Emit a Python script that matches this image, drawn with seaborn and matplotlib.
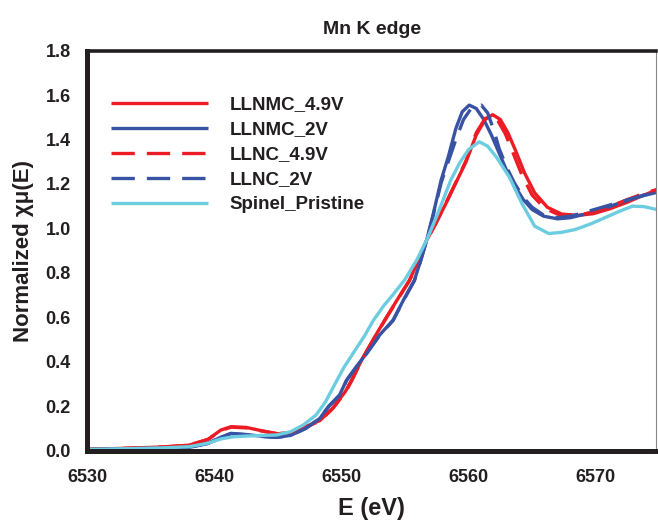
import matplotlib
matplotlib.use("Agg")
import matplotlib.pyplot as plt
import seaborn as sns
import pandas as pd

# energy (eV) / normalized absorption
llnmc_49_x = [6530.0, 6533.0, 6536.0, 6538.0, 6539.5, 6540.5, 6541.3, 6542.5, 6543.8, 6545.0,
              6546.3, 6547.3, 6548.3, 6549.3, 6550.3, 6550.8, 6551.7, 6552.6, 6553.4, 6554.4,
              6555.35, 6556.1, 6556.7, 6557.4, 6558.2, 6559.1, 6559.8, 6560.6, 6561.3, 6561.9,
              6562.5, 6563.1, 6563.7, 6564.4, 6565.2, 6566.2, 6567.3, 6568.5, 6569.8, 6571.1,
              6572.5, 6573.7, 6574.8]
llnmc_49_y = [0.005, 0.010, 0.016, 0.024, 0.050, 0.092, 0.107, 0.104, 0.088, 0.075,
              0.084, 0.110, 0.135, 0.190, 0.265, 0.317, 0.420, 0.510, 0.587, 0.680,
              0.767, 0.860, 0.947, 1.020, 1.110, 1.217, 1.300, 1.420, 1.490, 1.512,
              1.490, 1.430, 1.350, 1.250, 1.160, 1.095, 1.065, 1.058, 1.066, 1.088,
              1.118, 1.148, 1.172]

llnmc_2_x = [6530.0, 6533.0, 6536.0, 6538.0, 6539.5, 6540.5, 6541.3, 6542.5, 6543.8, 6544.9,
             6546.0, 6547.2, 6548.3, 6549.0, 6549.85, 6550.4, 6551.2, 6552.0, 6553.0, 6554.06,
             6554.9, 6555.74, 6556.2, 6556.7, 6557.2, 6557.84, 6558.4, 6559.0, 6559.5, 6560.05,
             6560.6, 6561.2, 6561.8, 6562.4, 6563.0, 6563.6, 6564.3, 6565.0, 6565.9, 6567.0,
             6568.0, 6569.0, 6570.2, 6571.4, 6572.6, 6573.8, 6574.8]
llnmc_2_y = [0.005, 0.008, 0.011, 0.014, 0.032, 0.060, 0.077, 0.072, 0.064, 0.059,
             0.068, 0.100, 0.145, 0.200, 0.250, 0.317, 0.380, 0.440, 0.520, 0.587,
             0.680, 0.767, 0.850, 0.947, 1.060, 1.217, 1.322, 1.450, 1.525, 1.555,
             1.540, 1.490, 1.420, 1.340, 1.260, 1.195, 1.130, 1.085, 1.055, 1.043,
             1.048, 1.062, 1.080, 1.105, 1.128, 1.148, 1.162]

llnc_49_x = [6530.0, 6533.0, 6536.0, 6538.0, 6539.5, 6540.5, 6541.3, 6542.5, 6543.8, 6545.0,
             6546.3, 6547.3, 6548.3, 6549.3, 6550.3, 6550.8, 6551.7, 6552.6, 6553.4, 6554.4,
             6555.35, 6556.1, 6556.7, 6557.4, 6558.2, 6559.1, 6559.8, 6560.6, 6561.3, 6561.8,
             6562.3, 6562.9, 6563.5, 6564.2, 6565.0, 6566.0, 6567.1, 6568.5, 6569.8, 6571.1,
             6572.5, 6573.7, 6574.8]
llnc_49_y = [0.005, 0.010, 0.016, 0.024, 0.050, 0.090, 0.105, 0.102, 0.087, 0.075,
             0.083, 0.108, 0.133, 0.188, 0.262, 0.314, 0.418, 0.508, 0.585, 0.678,
             0.765, 0.858, 0.945, 1.020, 1.112, 1.220, 1.305, 1.430, 1.495, 1.505,
             1.485, 1.425, 1.340, 1.240, 1.150, 1.090, 1.062, 1.060, 1.072, 1.098,
             1.130, 1.155, 1.175]

llnc_2_x = [6530.0, 6533.0, 6536.0, 6538.0, 6539.5, 6540.5, 6541.3, 6542.5, 6543.8, 6544.9,
            6546.0, 6547.2, 6548.3, 6549.0, 6549.85, 6550.4, 6551.2, 6552.0, 6553.0, 6554.06,
            6554.9, 6555.74, 6556.2, 6556.7, 6557.2, 6557.84, 6558.4, 6559.0, 6559.6, 6560.2,
            6561.0, 6561.5, 6562.0, 6562.4, 6563.0, 6563.6, 6564.3, 6565.0, 6565.9, 6567.0,
            6568.0, 6569.0, 6570.2, 6571.4, 6572.6, 6573.8, 6574.8]
llnc_2_y = [0.005, 0.008, 0.011, 0.014, 0.032, 0.060, 0.076, 0.071, 0.063, 0.059,
            0.068, 0.100, 0.145, 0.198, 0.248, 0.315, 0.378, 0.438, 0.518, 0.585,
            0.678, 0.765, 0.848, 0.945, 1.055, 1.205, 1.300, 1.400, 1.490, 1.540,
            1.555, 1.520, 1.440, 1.360, 1.275, 1.205, 1.140, 1.095, 1.060, 1.048,
            1.055, 1.070, 1.090, 1.110, 1.130, 1.150, 1.165]

spinel_x = [6530.0, 6533.0, 6536.0, 6538.0, 6539.5, 6540.5, 6541.5, 6542.5, 6543.8, 6544.9,
            6546.0, 6547.0, 6548.0, 6548.7, 6549.4, 6550.2, 6551.0, 6551.8, 6552.5, 6553.3,
            6554.1, 6554.96, 6555.9, 6556.7, 6557.6, 6558.6, 6559.3, 6560.0, 6560.84, 6561.5,
            6562.2, 6563.2, 6564.2, 6565.2, 6566.3, 6567.3, 6568.4, 6569.6, 6570.8, 6572.0,
            6572.9, 6573.8, 6574.8]
spinel_y = [0.005, 0.008, 0.012, 0.017, 0.033, 0.052, 0.062, 0.065, 0.068, 0.070,
            0.085, 0.115, 0.160, 0.215, 0.290, 0.375, 0.445, 0.515, 0.585, 0.650,
            0.705, 0.767, 0.855, 0.947, 1.070, 1.217, 1.295, 1.355, 1.390, 1.370,
            1.320, 1.232, 1.112, 1.010, 0.977, 0.982, 0.995, 1.020, 1.050, 1.080,
            1.100, 1.098, 1.085]

names = ["LLNMC_4.9V", "LLNMC_2V", "LLNC_4.9V", "LLNC_2V", "Spinel_Pristine"]
xs = [llnmc_49_x, llnmc_2_x, llnc_49_x, llnc_2_x, spinel_x]
ys = [llnmc_49_y, llnmc_2_y, llnc_49_y, llnc_2_y, spinel_y]
colors = ["#ed1c24", "#3953a4", "#ed1c24", "#3953a4", "#6dcde0"]
dashed = [False, False, True, True, False]

sns.set_style("white")
plt.rcParams['font.family'] = ['Liberation Sans', 'DejaVu Sans']
plt.rcParams['font.weight'] = 'bold'

fig = plt.figure(figsize=(6.58, 5.21), dpi=100)
ax = fig.add_axes([0.1327, 0.1353, 0.8643, 0.7674])

for name, x, y, c, d in zip(names, xs, ys, colors, dashed):
    df = pd.DataFrame({"E": x, "mu": y})
    sns.lineplot(data=df, x="E", y="mu", color=c, linewidth=2.4, label=name, ax=ax)
    line = ax.lines[-1]
    if d:
        line.set_dashes((7, 3.6))
    line.set_solid_capstyle('butt')

ax.set_xlim(6530, 6574.75)
ax.set_ylim(0, 1.8)
ax.set_xticks([6530, 6540, 6550, 6560, 6570])
ax.set_yticks([0.0, 0.2, 0.4, 0.6, 0.8, 1.0, 1.2, 1.4, 1.6, 1.8])
ax.set_yticklabels([f"{v:.1f}" for v in ax.get_yticks()])

ax.tick_params(axis='both', which='major', direction='out', length=4, width=1,
               color='#555555', labelsize=13, labelcolor='#231f20')
ax.tick_params(axis='x', pad=9)
ax.tick_params(axis='y', pad=8)
for lab in ax.get_xticklabels() + ax.get_yticklabels():
    lab.set_fontweight('bold')

spine_col = '#231f20'
ax.spines['left'].set_linewidth(3.6)
ax.spines['bottom'].set_linewidth(3.6)
ax.spines['top'].set_linewidth(2.6)
ax.spines['right'].set_linewidth(0.8)
for s in ['left', 'bottom', 'top']:
    ax.spines[s].set_color(spine_col)
ax.spines['right'].set_color('#888888')

ax.set_title("Mn K edge", fontsize=14, fontweight='bold', color='#231f20', pad=12)
ax.set_xlabel("E (eV)", fontsize=17, fontweight='bold', color='#231f20', labelpad=8)
ax.set_ylabel("Normalized χμ(E)", fontsize=16, fontweight='bold', color='#231f20', labelpad=8)

leg = ax.legend(loc='upper left', bbox_to_anchor=(0.025, 0.91), frameon=False,
                fontsize=13.5, handlelength=5.2, handletextpad=1.15, labelspacing=0.42,
                borderpad=0)
for t in leg.get_texts():
    t.set_fontweight('bold')
    t.set_color('#231f20')
for h in leg.get_lines():
    h.set_linewidth(2.4)

fig.savefig("out.png", dpi=100)
